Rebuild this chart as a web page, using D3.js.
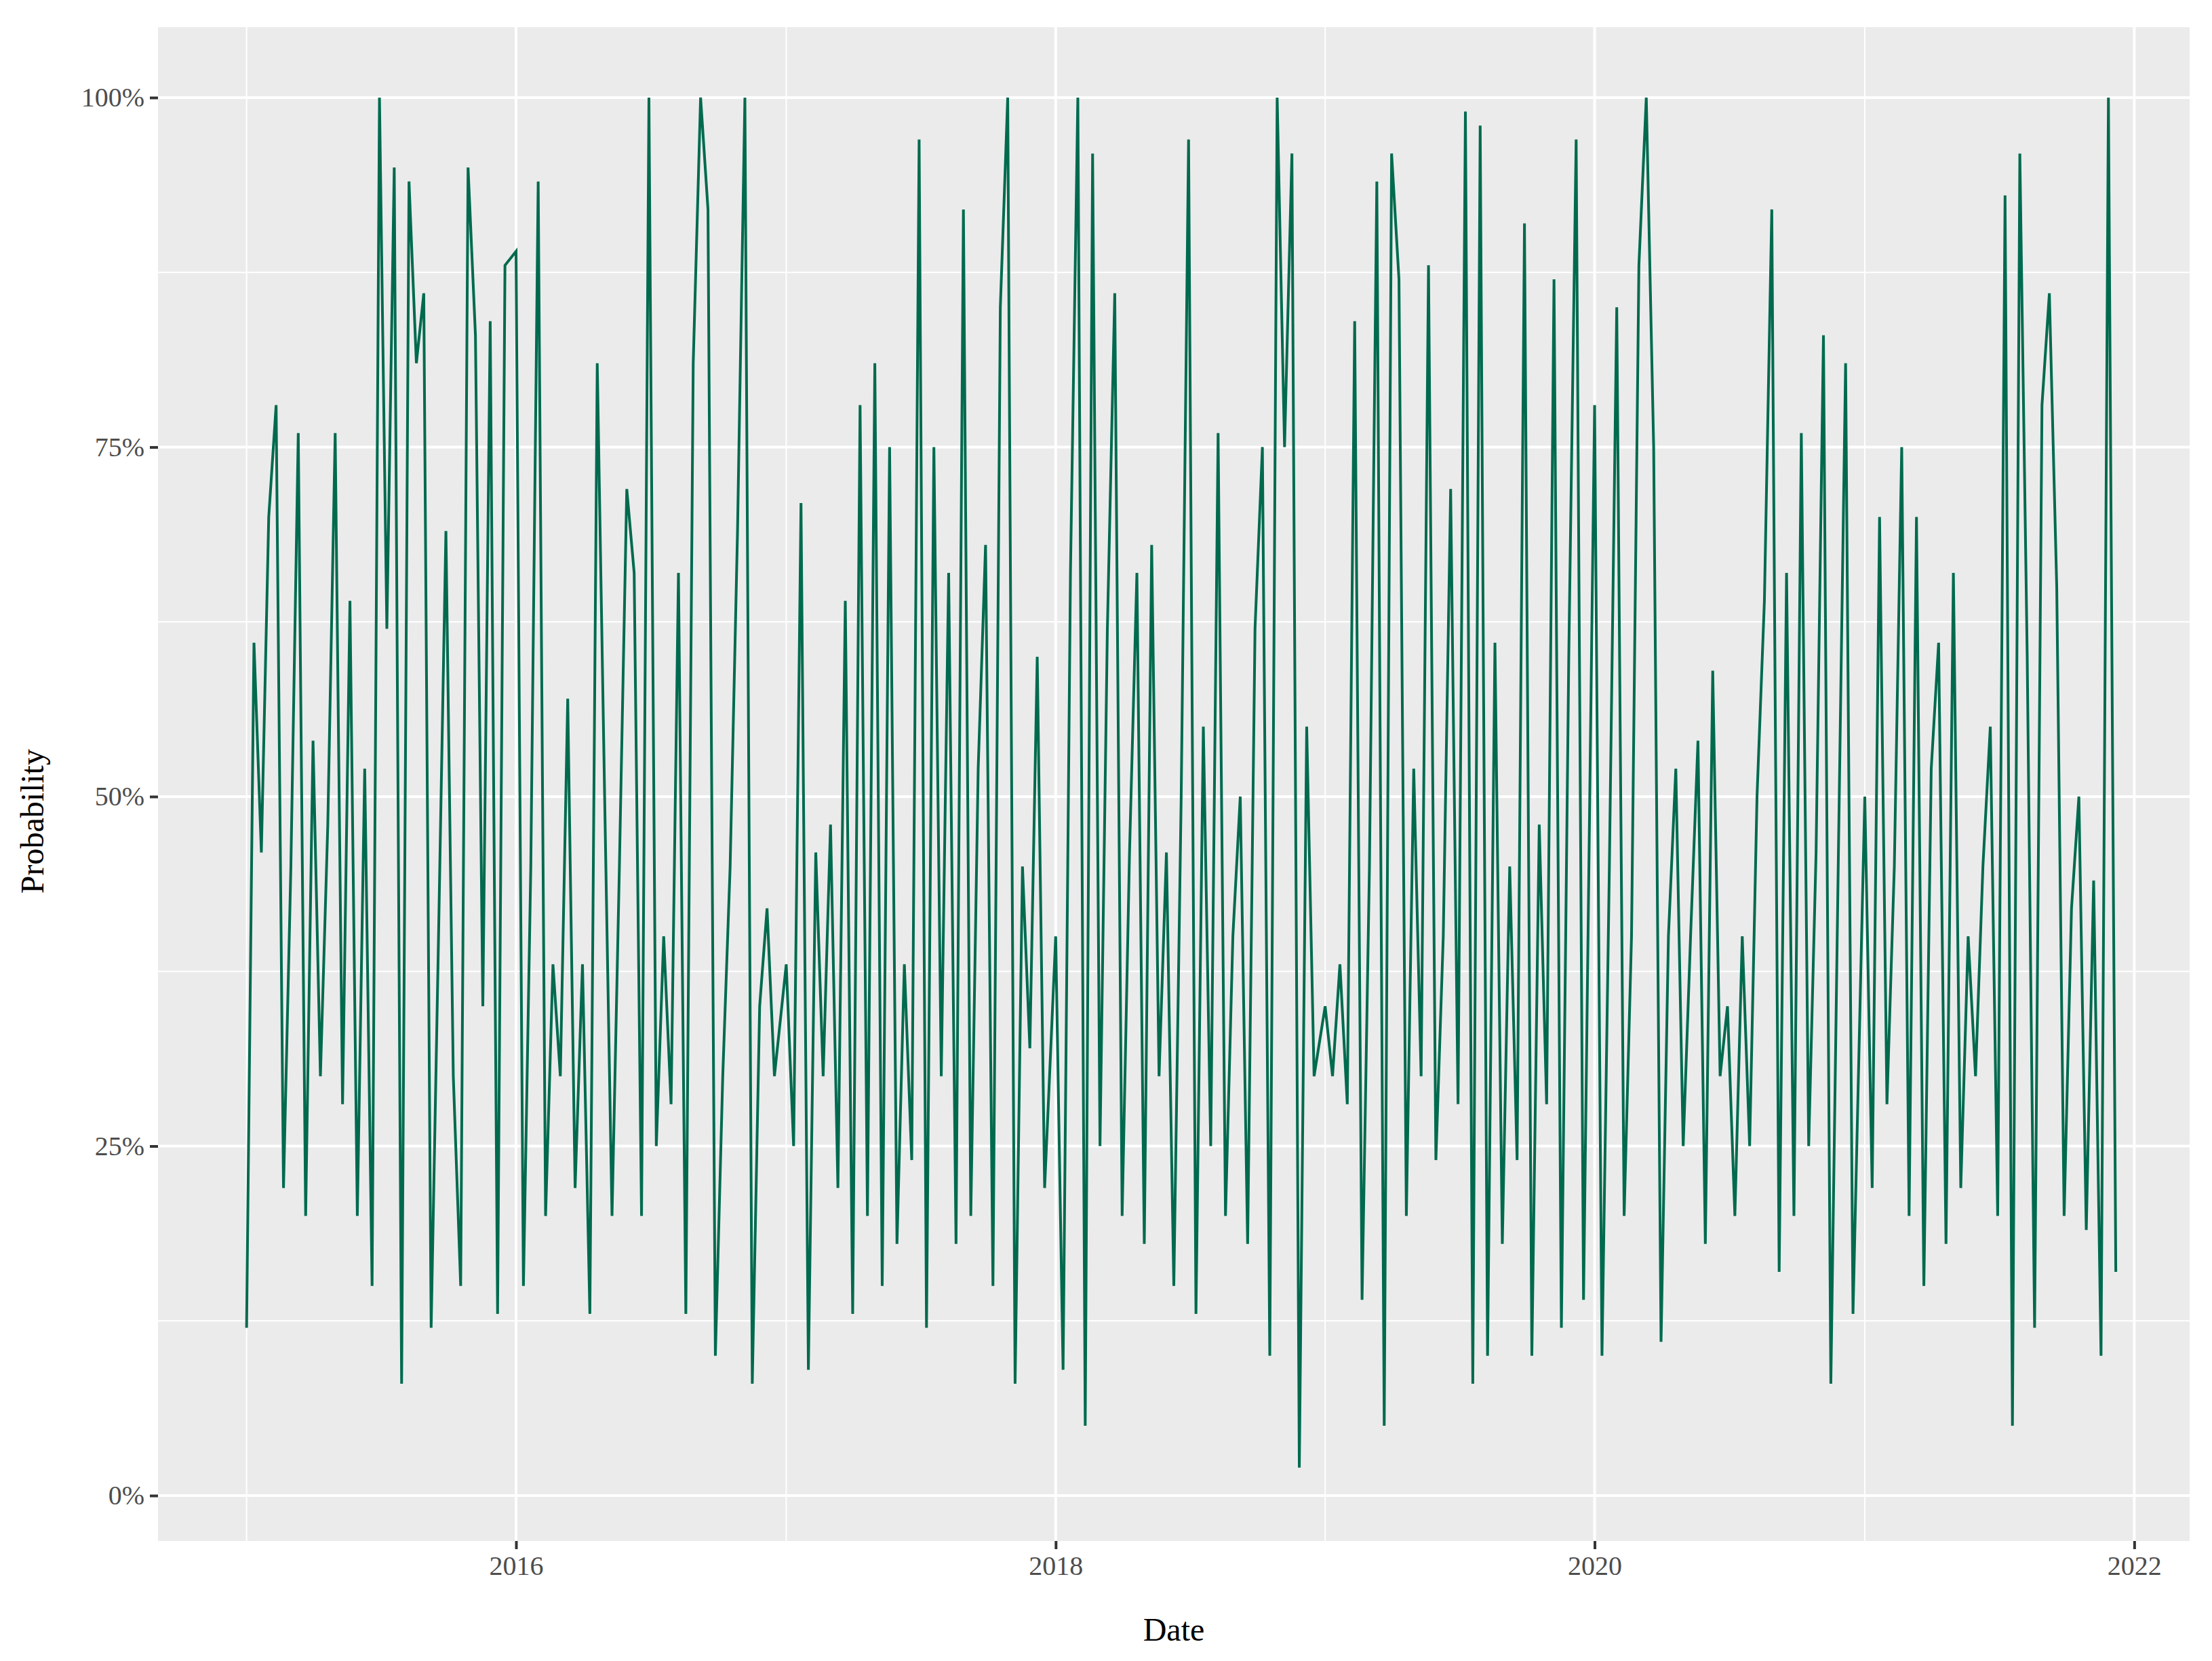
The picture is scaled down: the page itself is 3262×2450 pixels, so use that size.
<!DOCTYPE html>
<html>
<head>
<meta charset="utf-8">
<script src="https://cdn.jsdelivr.net/npm/d3@7"></script>
<style>
  body { margin: 0; background: #fff; }
  text { font-family: "Liberation Serif", "DejaVu Serif", serif; }
</style>
</head>
<body>
<svg id="chart" width="3262" height="2450"></svg>
<script>
// probability (%) sampled every 10 days, one list per year
const p2015 = [12,61,46,70,78,22,45,76,20,54,30,48,76,28,64,20,52,15,100,62,95,8,94,81,86,12,40,69,30,15,95,83,35,84,13,88];
const p2016 = [89,15,45,94,20,38,30,57,22,38,13,81,50,20,45,72,66,20,100,25,40,28,66,13,81,100,92,10,30,45,69,100,8,35,42,30];
const p2017 = [38,25,71,9,46,30,48,22,64,13,78,20,81,15,75,18,38,24,97,12,75,30,66,18,92,20,52,68,15,85,100,8,45,32,60,22];
const p2018 = [40,9,66,100,5,96,25,62,86,20,46,66,18,68,30,46,15,50,97,13,55,25,76,20,40,50,18,62,75,10,100,75,96,2,55,30];
const p2019 = [35,30,38,28,84,14,45,94,5,96,87,20,52,30,88,24,40,72,28,99,8,98,10,61,18,45,24,91,10,48,28,87,12,60,97,14];
const p2020 = [78,10,45,85,20,40,88,100,75,11,40,52,25,40,54,18,59,30,35,20,40,25,50,64,92,16,66,20,76,25,46,83,8,45,81,13];
const p2021 = [50,22,70,28,45,75,20,70,15,52,61,18,66,22,40,30,45,55,20,93,5,96,60,12,78,86,65,20,42,50,19,44,10,100,16];
const years = [2015, 2016, 2017, 2018, 2019, 2020, 2021];
const yearSeries = [p2015, p2016, p2017, p2018, p2019, p2020, p2021];
const xTicks = [2016, 2018, 2020, 2022];
const yTicks = [0, 25, 50, 75, 100];

const data = [];
years.forEach(function(yr, k) {
    yearSeries[k].forEach(function(v, i) {
        data.push({date: new Date(yr, 0, 1 + 10 * i), value: v / 100});
    });
});

const mLeft = 233, mRight = 3229, mTop = 40, mBottom = 2273;
const svg = d3.select("#chart");

const x = d3.scaleTime()
    .domain([new Date(2014, 8, 3), new Date(2022, 2, 17)])
    .range([mLeft, mRight]);
const y = d3.scaleLinear()
    .domain([-0.0325, 1.0504])
    .range([mBottom, mTop]);

svg.append("rect")
    .attr("x", mLeft).attr("y", mTop)
    .attr("width", mRight - mLeft).attr("height", mBottom - mTop)
    .attr("fill", "#EBEBEB");

// minor grid
const minorX = [2015, 2017, 2019, 2021].map(d => new Date(d, 0, 1));
svg.selectAll(".mx").data(minorX).enter().append("line")
    .attr("x1", d => x(d)).attr("x2", d => x(d))
    .attr("y1", mTop).attr("y2", mBottom)
    .attr("stroke", "#fff").attr("stroke-width", 2);
svg.selectAll(".my").data([0.125, 0.375, 0.625, 0.875]).enter().append("line")
    .attr("x1", mLeft).attr("x2", mRight)
    .attr("y1", d => y(d)).attr("y2", d => y(d))
    .attr("stroke", "#fff").attr("stroke-width", 2);

// major grid
svg.selectAll(".gx").data(xTicks).enter().append("line")
    .attr("x1", d => x(new Date(d, 0, 1))).attr("x2", d => x(new Date(d, 0, 1)))
    .attr("y1", mTop).attr("y2", mBottom)
    .attr("stroke", "#fff").attr("stroke-width", 4);
svg.selectAll(".gy").data(yTicks).enter().append("line")
    .attr("x1", mLeft).attr("x2", mRight)
    .attr("y1", d => y(d / 100)).attr("y2", d => y(d / 100))
    .attr("stroke", "#fff").attr("stroke-width", 4);

const line = d3.line()
    .x(d => x(d.date))
    .y(d => y(d.value));

svg.append("path")
    .datum(data)
    .attr("d", line)
    .attr("fill", "none")
    .attr("stroke", "#006A4E")
    .attr("stroke-width", 4)
    .attr("stroke-linejoin", "miter");

// axes
const xAxis = svg.append("g")
    .attr("transform", "translate(0," + mBottom + ")")
    .call(d3.axisBottom(x)
        .tickValues(xTicks.map(d => new Date(d, 0, 1)))
        .tickFormat(d3.timeFormat("%Y"))
        .tickSize(12).tickPadding(10));
const yAxis = svg.append("g")
    .attr("transform", "translate(" + mLeft + ",0)")
    .call(d3.axisLeft(y)
        .tickValues(yTicks.map(d => d / 100))
        .tickFormat(d => Math.round(d * 100) + "%")
        .tickSize(12).tickPadding(8));
[xAxis, yAxis].forEach(function(g) {
    g.select(".domain").remove();
    g.selectAll(".tick line").attr("stroke", "#333").attr("stroke-width", 4);
    g.selectAll(".tick text")
        .attr("fill", "#4D4D4D")
        .attr("font-size", 40)
        .style("font-family", "'Liberation Serif', serif");
});

svg.append("text")
    .attr("x", (mLeft + mRight) / 2).attr("y", 2420)
    .attr("text-anchor", "middle")
    .attr("font-size", 48)
    .text("Date");
svg.append("text")
    .attr("transform", "translate(64," + ((mTop + mBottom) / 2 + 55) + ") rotate(-90)")
    .attr("text-anchor", "middle")
    .attr("font-size", 48)
    .text("Probability");
</script>
</body>
</html>
